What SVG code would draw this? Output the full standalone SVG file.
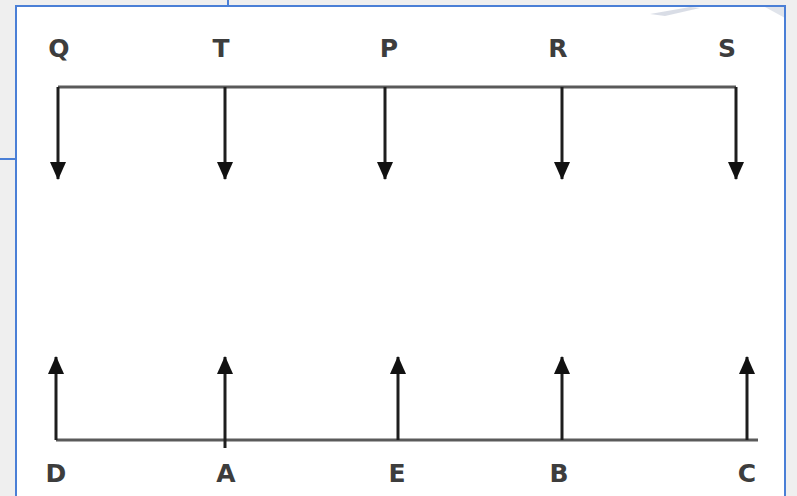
<svg xmlns="http://www.w3.org/2000/svg" width="797" height="496" viewBox="0 0 797 496">
<style>
.lbl{font-family:"DejaVu Sans","Liberation Sans",sans-serif;font-weight:bold;font-size:25px;fill:#3d3d3d;text-anchor:middle}
.bar{stroke:#5a5a5a;stroke-width:3;fill:none}
.arr{stroke:#1e1e1e;stroke-width:3;fill:none;marker-end:url(#ah)}
.frame{stroke:#4a7fd6;stroke-width:2;fill:none}
</style>
<defs>
<marker id="ah" viewBox="0 0 18 16" refX="17" refY="8" markerWidth="18" markerHeight="16" markerUnits="userSpaceOnUse" orient="auto">
<path d="M0,0 L18,8 L0,16 Z" fill="#111"/>
</marker>
</defs>
<rect x="0" y="0" width="797" height="496" fill="#efefef"/>
<rect x="16" y="6" width="769" height="492" fill="#ffffff"/>
<path d="M650,14 L690,7 L700,8 L665,16 Z" fill="#c9cfdc" opacity="0.7"/>
<path d="M765,7 L785,7 L785,18 Z" fill="#d3d8e3" opacity="0.7"/>
<g id="frame">
<path class="frame" d="M16,496 L16,6 L785,6 L785,496"/>
<line class="frame" x1="228" y1="0" x2="228" y2="6"/>
<line class="frame" x1="0" y1="159" x2="16" y2="159"/>
</g>
<g id="connectors">
<path class="bar" d="M58,87 L736,87"/>
<line class="arr" x1="58" y1="87" x2="58" y2="179"/>
<line class="arr" x1="225" y1="87" x2="225" y2="179"/>
<line class="arr" x1="385" y1="87" x2="385" y2="179"/>
<line class="arr" x1="562" y1="87" x2="562" y2="179"/>
<line class="arr" x1="736" y1="87" x2="736" y2="179"/>
<path class="bar" d="M56,440 L758,440"/>
<line class="arr" x1="56" y1="440" x2="56" y2="357"/>
<line class="arr" x1="225" y1="448" x2="225" y2="357"/>
<line class="arr" x1="398" y1="440" x2="398" y2="357"/>
<line class="arr" x1="562" y1="440" x2="562" y2="357"/>
<line class="arr" x1="747" y1="440" x2="747" y2="357"/>
</g>
<g id="node-Q"><text class="lbl" x="59" y="57">Q</text></g>
<g id="node-T"><text class="lbl" x="221" y="57">T</text></g>
<g id="node-P"><text class="lbl" x="389" y="57">P</text></g>
<g id="node-R"><text class="lbl" x="558" y="57">R</text></g>
<g id="node-S"><text class="lbl" x="727" y="57">S</text></g>
<g id="node-D"><text class="lbl" x="56" y="482">D</text></g>
<g id="node-A"><text class="lbl" x="226" y="482">A</text></g>
<g id="node-E"><text class="lbl" x="397" y="482">E</text></g>
<g id="node-B"><text class="lbl" x="559" y="482">B</text></g>
<g id="node-C"><text class="lbl" x="747" y="482">C</text></g>
</svg>
